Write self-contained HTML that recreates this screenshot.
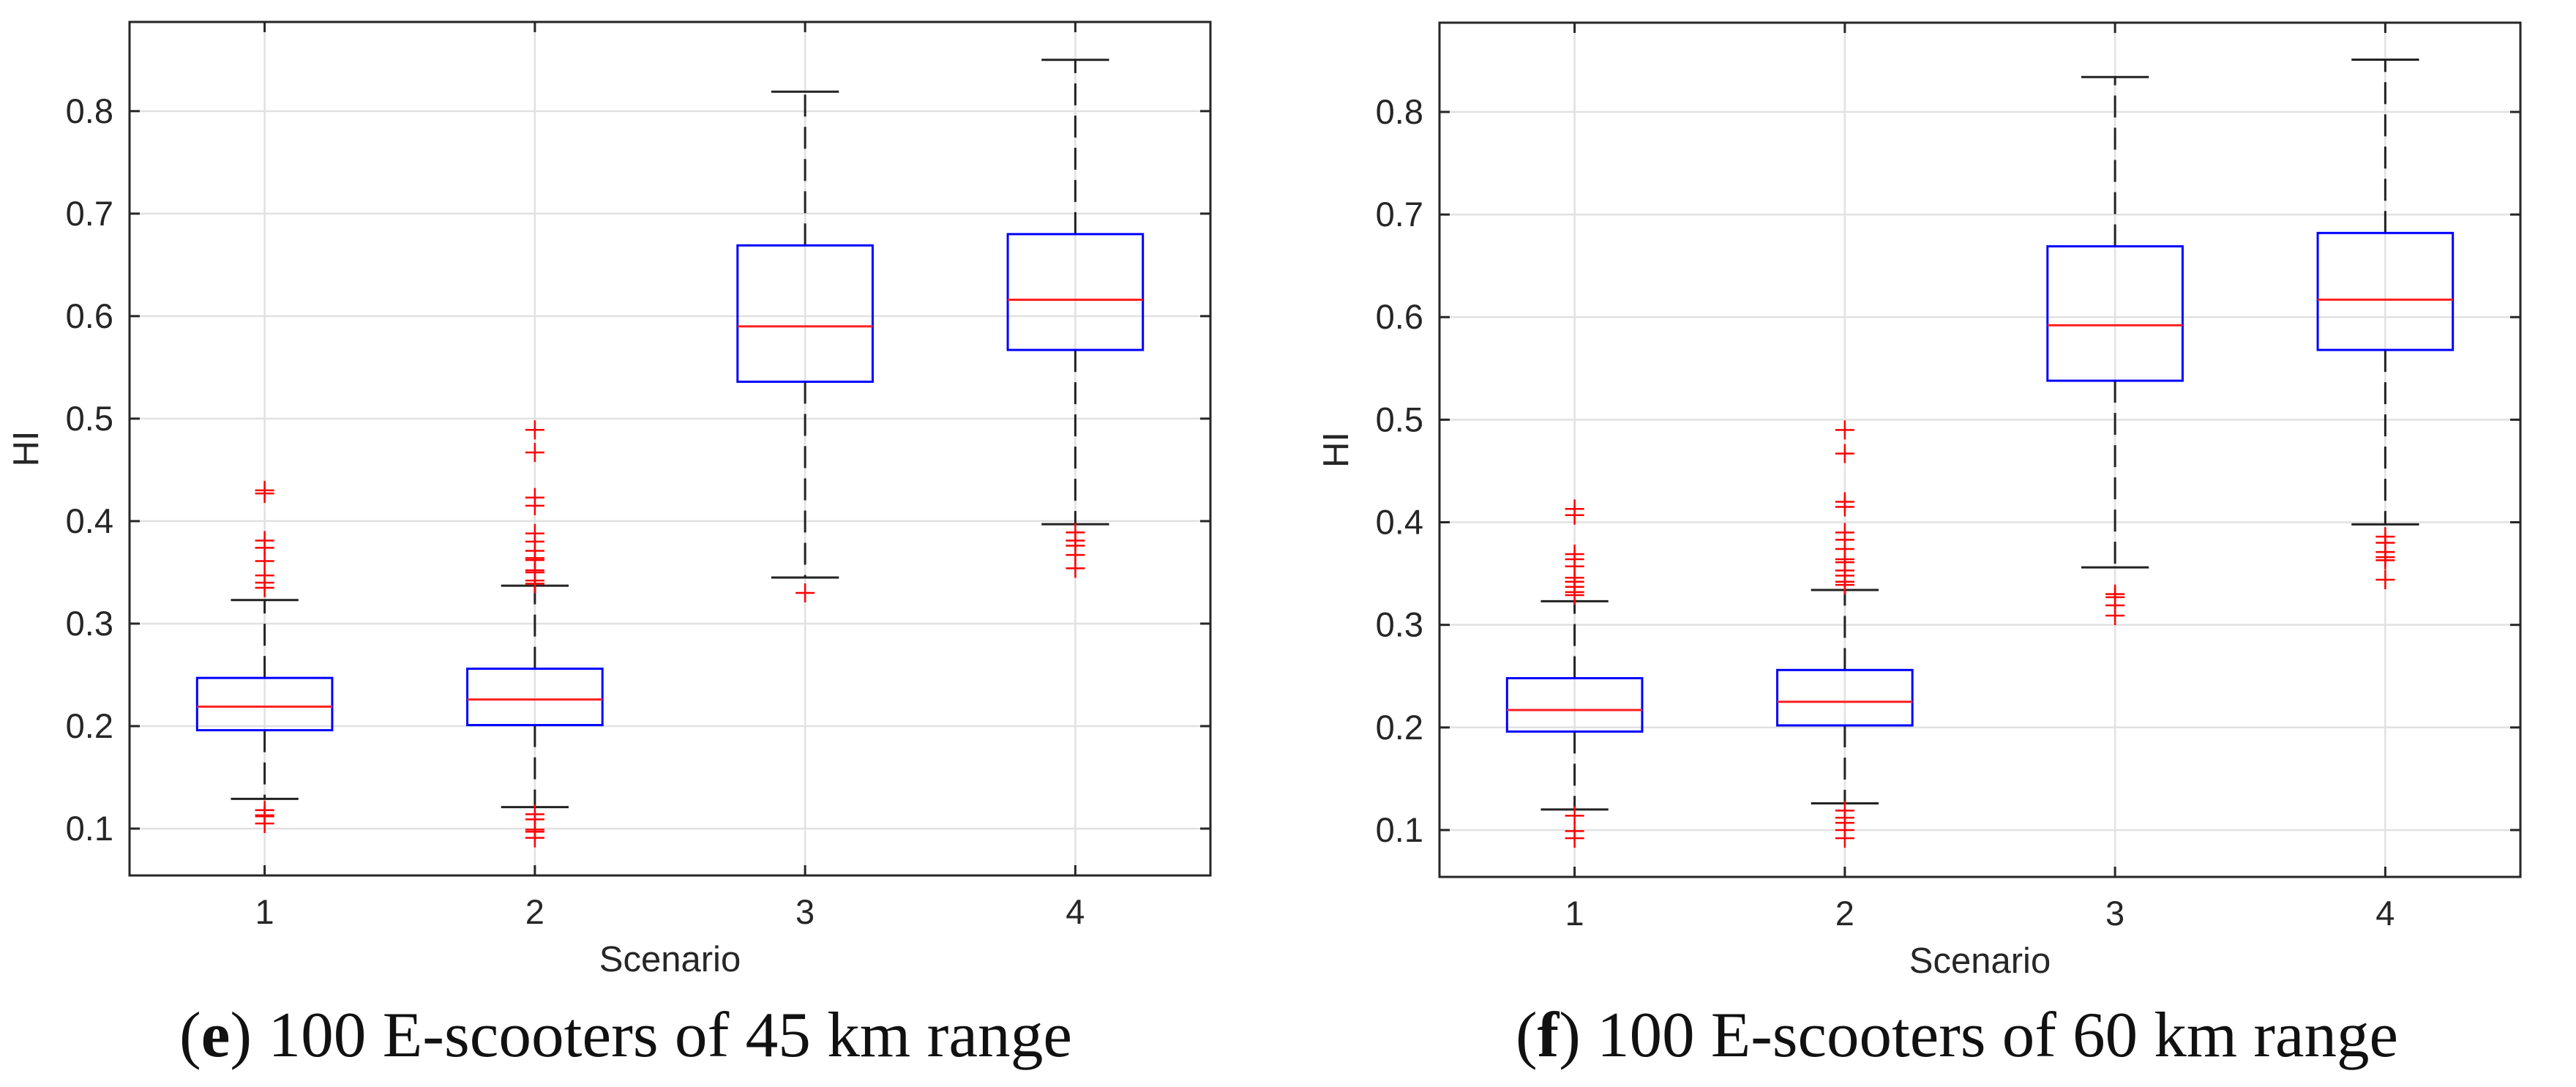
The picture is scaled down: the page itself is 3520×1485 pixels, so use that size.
<!DOCTYPE html>
<html><head><meta charset="utf-8"><style>
html,body{margin:0;padding:0;background:#fff;}
svg{display:block;}
</style></head><body>
<svg id="fig" width="3520" height="1485" viewBox="0 0 3520 1485" xmlns="http://www.w3.org/2000/svg">
<text x="245" y="1443" textLength="1220" lengthAdjust="spacingAndGlyphs" font-family="'Liberation Serif',serif" font-size="88" fill="#111">(<tspan font-weight="bold">e</tspan>) 100 E-scooters of 45 km range</text>
<text x="2071" y="1443" textLength="1206" lengthAdjust="spacingAndGlyphs" font-family="'Liberation Serif',serif" font-size="88" fill="#111">(<tspan font-weight="bold">f</tspan>) 100 E-scooters of 60 km range</text>
</svg>
<script>
const categories = [1, 2, 3, 4];
const yTicks = [0.1, 0.2, 0.3, 0.4, 0.5, 0.6, 0.7, 0.8];
const yTickLabels = ["0.1","0.2","0.3","0.4","0.5","0.6","0.7","0.8"];
// panel e
const eQ1 = [0.196, 0.201, 0.536, 0.567];
const eMed = [0.219, 0.226, 0.590, 0.616];
const eQ3 = [0.247, 0.256, 0.669, 0.680];
const eLo = [0.129, 0.121, 0.345, 0.397];
const eHi = [0.323, 0.337, 0.819, 0.850];
const eOut = [
 [0.427,0.430,0.374,0.381,0.361,0.347,0.340,0.335,0.118,0.113,0.112,0.105],
 [0.489,0.467,0.423,0.415,0.388,0.380,0.371,0.364,0.362,0.352,0.350,0.342,0.339,0.114,0.109,0.099,0.097,0.091],
 [0.330],
 [0.389,0.381,0.376,0.367,0.354]
];
// panel f
const fQ1 = [0.196, 0.202, 0.538, 0.568];
const fMed = [0.217, 0.225, 0.592, 0.617];
const fQ3 = [0.248, 0.256, 0.669, 0.682];
const fLo = [0.120, 0.126, 0.356, 0.398];
const fHi = [0.323, 0.334, 0.834, 0.851];
const fOut = [
 [0.413,0.407,0.369,0.364,0.357,0.346,0.342,0.337,0.332,0.329,0.114,0.099,0.092],
 [0.490,0.467,0.420,0.415,0.390,0.383,0.374,0.364,0.361,0.353,0.348,0.342,0.339,0.119,0.112,0.107,0.100,0.092],
 [0.330,0.327,0.319,0.309],
 [0.386,0.380,0.371,0.366,0.363,0.344]
];

const NS = "http://www.w3.org/2000/svg";
const svg = document.getElementById('fig');
function mk(tag, attrs, parent){
  const el = document.createElementNS(NS, tag);
  for (const k in attrs) el.setAttribute(k, attrs[k]);
  (parent||svg).appendChild(el);
  return el;
}
const YMIN = 0.0543, YMAX = 0.887;

function panel(name, L, R, T, B, q1, med, q3, lo, hi, outs){
  const g = mk('g', {});
  
  
  const xs = v => L + (v - 0.5) / 4 * (R - L);
  const ys = v => B - (v - YMIN) / (YMAX - YMIN) * (B - T);
  const font = "'Liberation Sans',sans-serif";
  yTicks.forEach((t, i) => {
    const l = mk('line', {x1:L, x2:R, y1:ys(t), y2:ys(t), stroke:'#e1e1e1', 'stroke-width':2.5}, g);
    
    
  });
  categories.forEach(c => {
    const l = mk('line', {x1:xs(c), x2:xs(c), y1:T, y2:B, stroke:'#e1e1e1', 'stroke-width':2.5}, g);
    
    
  });
  const uw = (R - L) / 4;
  categories.forEach((c, i) => {
    const cx = xs(c);
    const bg = mk('g', {}, g);
    
    
    mk('line', {x1:cx, x2:cx, y1:ys(q3[i]), y2:ys(hi[i]), stroke:'#222', 'stroke-width':3, 'stroke-dasharray':'30 14'}, bg);
    mk('line', {x1:cx, x2:cx, y1:ys(q1[i]), y2:ys(lo[i]), stroke:'#222', 'stroke-width':3, 'stroke-dasharray':'30 14'}, bg);
    mk('line', {x1:cx - uw*0.125, x2:cx + uw*0.125, y1:ys(hi[i]), y2:ys(hi[i]), stroke:'#222', 'stroke-width':3}, bg);
    mk('line', {x1:cx - uw*0.125, x2:cx + uw*0.125, y1:ys(lo[i]), y2:ys(lo[i]), stroke:'#222', 'stroke-width':3}, bg);
    mk('rect', {x:cx - uw*0.25, y:ys(q3[i]), width:uw*0.5, height:ys(q1[i]) - ys(q3[i]), fill:'none', stroke:'#0000ff', 'stroke-width':3}, bg);
    mk('line', {x1:cx - uw*0.25, x2:cx + uw*0.25, y1:ys(med[i]), y2:ys(med[i]), stroke:'#ff2020', 'stroke-width':3}, bg);
    outs[i].forEach(v => {
      const p = mk('path', {d:`M${cx-13},${ys(v)}h26M${cx},${ys(v)-13}v26`, stroke:'#ff0000', 'stroke-width':2.5, fill:'none'}, bg);
      
      
    });
  });
  const ax = mk('rect', {x:L, y:T, width:R-L, height:B-T, fill:'none', stroke:'#262626', 'stroke-width':3}, g);
  
  
  yTicks.forEach((t, i) => {
    mk('line', {x1:L, x2:L+14, y1:ys(t), y2:ys(t), stroke:'#262626', 'stroke-width':3}, g);
    mk('line', {x1:R-14, x2:R, y1:ys(t), y2:ys(t), stroke:'#262626', 'stroke-width':3}, g);
    const tx = mk('text', {x:L-22, y:ys(t)+16, 'font-family':font, 'font-size':47, fill:'#262626', 'text-anchor':'end'}, g);
    tx.textContent = yTickLabels[i];
    
    
  });
  categories.forEach(c => {
    mk('line', {x1:xs(c), x2:xs(c), y1:B-14, y2:B, stroke:'#262626', 'stroke-width':3}, g);
    mk('line', {x1:xs(c), x2:xs(c), y1:T, y2:T+14, stroke:'#262626', 'stroke-width':3}, g);
    const tx = mk('text', {x:xs(c), y:B+66, 'font-family':font, 'font-size':47, fill:'#262626', 'text-anchor':'middle'}, g);
    tx.textContent = String(c);
    
    
  });
  const xl = mk('text', {x:(L+R)/2, y:B+131, 'font-family':font, 'font-size':49, fill:'#262626', 'text-anchor':'middle'}, g);
  xl.textContent = 'Scenario';
  
  
  const yc = (T+B)/2;
  const yl = mk('text', {x:L-125, y:yc, 'font-family':font, 'font-size':49, fill:'#262626', 'text-anchor':'middle', transform:`rotate(-90 ${L-125} ${yc})`}, g);
  yl.textContent = 'HI';
  
  
}
panel('panel-e', 177, 1654, 30, 1196, eQ1, eMed, eQ3, eLo, eHi, eOut);
panel('panel-f', 1967, 3444, 31, 1198, fQ1, fMed, fQ3, fLo, fHi, fOut);
</script>
</body></html>
